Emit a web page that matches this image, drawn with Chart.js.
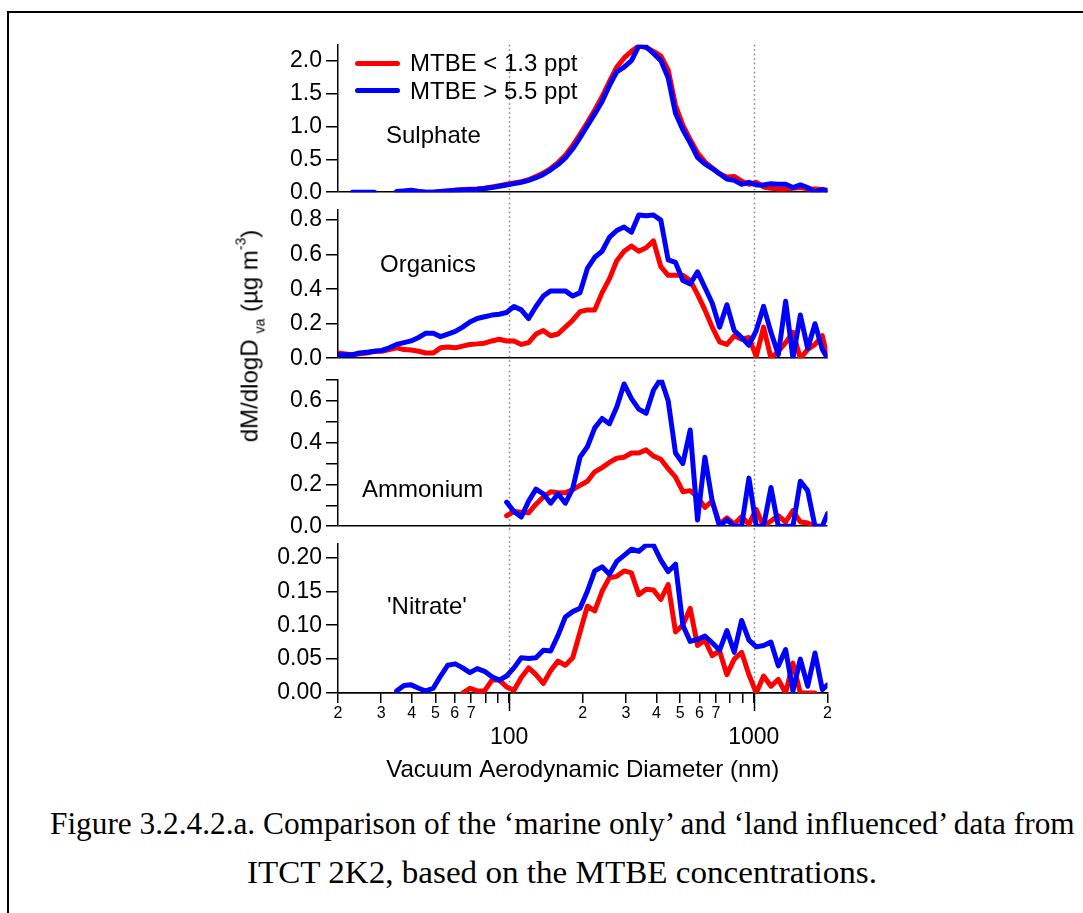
<!DOCTYPE html>
<html>
<head>
<meta charset="utf-8">
<script src="https://cdn.jsdelivr.net/npm/chart.js@4.4.1/dist/chart.umd.min.js"></script>
<style>
  body { margin: 0; background: #fff; width: 1083px; height: 913px; overflow: hidden; position: relative;
         font-family: "Liberation Sans", Arial, Helvetica, sans-serif; color: #000; }
  .frame { position: absolute; left: 7px; top: 11px; width: 1200px; height: 1000px;
           border-left: 2px solid #000; border-top: 2px solid #000; }
  canvas { position: absolute; left: 228px; }
  .lbl { position: absolute; font-size: 24px; line-height: 24px; white-space: nowrap; }
  .key { position: absolute; left: 355px; width: 45px; height: 5px; border-radius: 3px; }
  #ytitle { position: absolute; left: 250px; top: 336px; font-size: 24px; line-height: 24px; white-space: nowrap;
            transform: translate(-50%, -50%) rotate(-90deg); }
  #ytitle sub { font-size: 14px; vertical-align: -7px; margin-left: 6px; }
  #ytitle sup { font-size: 14px; vertical-align: 12px; }
  .cap { position: absolute; font-family: "Liberation Serif", "Times New Roman", serif; font-size: 31px;
         line-height: 31px; white-space: nowrap; transform-origin: left top; }
</style>
</head>
<body>
<div class="frame"></div>

<canvas id="c-sulphate" width="620" height="183" style="top:27px"></canvas>
<canvas id="c-organics" width="620" height="184" style="top:192px"></canvas>
<canvas id="c-ammonium" width="620" height="182" style="top:362px"></canvas>
<canvas id="c-nitrate" width="620" height="262" style="top:526px"></canvas>

<div class="key" style="top:61px;background:#ff0000"></div>
<div class="lbl" style="left:410px;top:51px">MTBE &lt; 1.3 ppt</div>
<div class="key" style="top:88px;background:#0000ff"></div>
<div class="lbl" style="left:410px;top:79px">MTBE &gt; 5.5 ppt</div>

<div class="lbl" style="left:386px;top:123px">Sulphate</div>
<div class="lbl" style="left:380px;top:252px">Organics</div>
<div class="lbl" style="left:362px;top:477px">Ammonium</div>
<div class="lbl" style="left:387px;top:594px">'Nitrate'</div>

<div id="ytitle">dM/dlogD<sub>va</sub> (µg m<sup>-3</sup>)</div>

<div class="cap" id="cap1" style="top:808px">Figure 3.2.4.2.a. Comparison of the ‘marine only’ and ‘land influenced’ data from</div>
<div class="cap" id="cap2" style="top:857px">ITCT 2K2, based on the MTBE concentrations.</div>

<script>
// vacuum aerodynamic diameter (nm), shared by all series
const diam = [20, 21.4, 22.9, 24.5, 26.3, 28.2, 30.2, 32.4, 34.7, 37.2,
  39.8, 42.7, 45.7, 49.0, 52.5, 56.2, 60.3, 64.6, 69.2, 74.1,
  79.4, 85.1, 91.2, 97.7, 104.7, 112.2, 120.2, 128.8, 138.0, 147.9,
  158.5, 169.8, 182.0, 195.0, 208.9, 223.9, 239.9, 257.0, 275.4, 295.1,
  316.2, 338.8, 363.1, 389.0, 416.9, 446.7, 478.6, 512.9, 549.5, 588.8,
  631.0, 676.1, 724.4, 776.2, 831.8, 891.3, 955.0, 1023, 1096, 1175,
  1259, 1349, 1445, 1549, 1660, 1778, 1905, 2000];

const seriesNames = ["MTBE < 1.3 ppt", "MTBE > 5.5 ppt"];

// Sulphate
const sulphLow = [null, null, null, null, null, null, null, null, 0.0, 0.01,
  0.02, 0.01, 0.0, 0.0, 0.01, 0.02, 0.03, 0.04, 0.045, 0.05,
  0.06, 0.08, 0.1, 0.12, 0.14, 0.16, 0.19, 0.24, 0.29, 0.36,
  0.45, 0.56, 0.71, 0.88, 1.06, 1.25, 1.45, 1.68, 1.9, 2.04,
  2.14, 2.22, 2.2, 2.14, 2.07, 1.86, 1.32, 1.02, 0.8, 0.6,
  0.46, 0.37, 0.28, 0.23, 0.24, 0.17, 0.12, 0.15, 0.08, 0.06,
  0.05, 0.05, 0.06, 0.07, 0.05, 0.05, 0.04, 0.03];
const sulphHigh = [null, null, 0.0, 0.0, 0.0, 0.0, null, null, 0.01, 0.02,
  0.03, 0.01, 0.0, 0.0, 0.01, 0.02, 0.03, 0.035, 0.04, 0.045,
  0.055, 0.07, 0.09, 0.11, 0.13, 0.15, 0.18, 0.22, 0.27, 0.34,
  0.42, 0.52, 0.66, 0.83, 1.01, 1.19, 1.38, 1.62, 1.83, 1.9,
  2.0, 2.22, 2.21, 2.11, 2.0, 1.74, 1.2, 0.95, 0.75, 0.53,
  0.43, 0.36, 0.28, 0.2, 0.18, 0.12, 0.15, 0.11, 0.11, 0.13,
  0.12, 0.12, 0.07, 0.11, 0.07, 0.0, 0.04, 0.02];

// Organics
const orgLow = [0.03, 0.025, 0.02, 0.025, 0.03, 0.04, 0.04, 0.05, 0.06, 0.05,
  0.047, 0.04, 0.03, 0.03, 0.06, 0.065, 0.06, 0.07, 0.08, 0.083,
  0.087, 0.1, 0.11, 0.1, 0.1, 0.08, 0.09, 0.14, 0.16, 0.13,
  0.14, 0.18, 0.22, 0.27, 0.28, 0.28, 0.38, 0.46, 0.565, 0.62,
  0.65, 0.62, 0.64, 0.68, 0.53, 0.48, 0.48, 0.48, 0.45, 0.37,
  0.28, 0.18, 0.095, 0.08, 0.13, 0.11, 0.12, 0.01, 0.18, 0.0,
  0.04, 0.09, 0.15, 0.0, 0.05, 0.08, 0.13, 0.0];
const orgHigh = [0.02, 0.02, 0.02, 0.03, 0.035, 0.04, 0.045, 0.06, 0.08, 0.09,
  0.1, 0.12, 0.145, 0.145, 0.125, 0.14, 0.155, 0.18, 0.21, 0.23,
  0.24, 0.25, 0.255, 0.265, 0.3, 0.28, 0.23, 0.3, 0.36, 0.39,
  0.39, 0.39, 0.36, 0.38, 0.52, 0.585, 0.62, 0.7, 0.74, 0.76,
  0.73, 0.83, 0.825, 0.83, 0.8, 0.57, 0.555, 0.45, 0.43, 0.5,
  0.41, 0.32, 0.18, 0.31, 0.16, 0.12, 0.075, 0.16, 0.3, 0.15,
  0.02, 0.33, 0.0, 0.25, 0.056, 0.2, 0.05, 0.0];

// Ammonium
const ammLow = [null, null, null, null, null, null, null, null, null, null,
  null, null, null, null, null, null, null, null, null, null,
  null, null, null, 0.05, 0.07, 0.067, 0.064, 0.105, 0.14, 0.165,
  0.16, 0.16, 0.175, 0.195, 0.215, 0.26, 0.28, 0.305, 0.325, 0.33,
  0.35, 0.35, 0.365, 0.335, 0.32, 0.275, 0.235, 0.165, 0.17, 0.14,
  0.09, 0.12, 0.01, 0.04, 0.01, 0.045, 0.01, 0.08, 0.0, 0.025,
  0.05, 0.02, 0.075, 0.02, 0.015, 0.0, null, null];
const ammHigh = [null, null, null, null, null, null, null, null, null, null,
  null, null, null, null, null, null, null, null, null, null,
  null, null, null, 0.115, 0.07, 0.044, 0.12, 0.177, 0.155, 0.11,
  0.155, 0.11, 0.18, 0.33, 0.38, 0.47, 0.515, 0.49, 0.57, 0.68,
  0.61, 0.56, 0.54, 0.65, 0.705, 0.6, 0.35, 0.3, 0.46, 0.03,
  0.33, 0.12, 0.0, 0.03, 0.0, 0.0, 0.23, 0.0, 0.0, 0.185,
  0.0, 0.0, 0.0, 0.215, 0.17, 0.0, 0.0, 0.06];

// 'Nitrate'
const nitLow = [null, null, null, null, null, null, null, null, null, null,
  null, null, null, null, null, null, null, 0.0, 0.007, 0.003,
  0.003, 0.019, 0.019, 0.009, 0.004, 0.023, 0.037, 0.027, 0.014, 0.033,
  0.047, 0.041, 0.052, 0.09, 0.128, 0.121, 0.15, 0.17, 0.172, 0.18,
  0.177, 0.145, 0.153, 0.152, 0.138, 0.16, 0.09, 0.1, 0.125, 0.07,
  0.078, 0.055, 0.062, 0.027, 0.05, 0.06, 0.027, 0.0, 0.025, 0.01,
  0.02, 0.0, 0.044, 0.0, 0.0, 0.0, null, null];
const nitHigh = [null, null, null, null, null, null, null, null, 0.003, 0.011,
  0.012, 0.007, 0.003, 0.007, 0.025, 0.041, 0.043, 0.037, 0.03, 0.036,
  0.032, 0.024, 0.019, 0.025, 0.037, 0.052, 0.051, 0.052, 0.063, 0.062,
  0.085, 0.112, 0.12, 0.125, 0.15, 0.18, 0.186, 0.175, 0.194, 0.203,
  0.212, 0.209, 0.218, 0.218, 0.196, 0.179, 0.19, 0.1, 0.076, 0.079,
  0.084, 0.074, 0.063, 0.092, 0.06, 0.107, 0.078, 0.068, 0.07, 0.075,
  0.04, 0.064, 0.003, 0.05, 0.01, 0.059, 0.005, 0.012];

// x axis ticks
const xTicks = [20, 30, 40, 50, 60, 70, 80, 90, 100, 200, 300, 400, 500, 600, 700, 800, 900, 1000, 2000];
const xTickLabels = ["2", "3", "4", "5", "6", "7", "", "", "", "2", "3", "4", "5", "6", "7", "", "", "", "2"];
const xDecades = [100, 1000];
const guideAt = [100, 1000];

const RED = "#ff0000";
const BLUE = "#0000ff";
const Y_AXIS_W = 110;

Chart.defaults.font.family = '"Liberation Sans", Arial, Helvetica, sans-serif';
Chart.defaults.color = "#000";

const guideLines = {
  id: "guideLines",
  beforeDatasetsDraw(chart, args, opts) {
    const { ctx, chartArea } = chart;
    const x = chart.scales.x;
    ctx.save();
    ctx.strokeStyle = "#808080";
    ctx.lineWidth = 1.5;
    ctx.setLineDash([1.5, 3]);
    guideAt.forEach(v => {
      const px = Math.round(x.getPixelForValue(v)) + 0.5;
      ctx.beginPath();
      ctx.moveTo(px, chartArea.top - (opts.up || 0));
      ctx.lineTo(px, chartArea.bottom + (opts.down || 0));
      ctx.stroke();
    });
    ctx.restore();
  },
  afterDraw(chart, args, opts) {
    if (!opts.majorTicks) return;
    const { ctx, chartArea } = chart;
    const x = chart.scales.x;
    ctx.save();
    ctx.strokeStyle = "#000";
    ctx.lineWidth = 1.5;
    xDecades.forEach(v => {
      const px = Math.round(x.getPixelForValue(v)) + 0.5;
      ctx.beginPath();
      ctx.moveTo(px, chartArea.bottom);
      ctx.lineTo(px, chartArea.bottom + 18);
      ctx.stroke();
    });
    ctx.restore();
  },
};

function points(values) {
  return diam.map((d, i) => ({ x: d, y: values[i] }));
}

function makePanel(canvasId, low, high, yMax, step, fmt, guide, isBottom) {
  const line = { borderWidth: 5, pointRadius: 0, tension: 0, borderJoinStyle: "round", borderCapStyle: "round", fill: false };
  const scales = {
    y: {
      min: 0, max: yMax,
      afterFit: s => { s.width = Y_AXIS_W; },
      border: { display: true, color: "#000", width: 1.5 },
      grid: {
        drawOnChartArea: true, drawTicks: true, tickLength: 12, tickColor: "#000", lineWidth: 1.5,
        color: c => (c.tick && c.tick.value === 0 ? "#000" : "rgba(0,0,0,0)"),
      },
      ticks: { stepSize: step, includeBounds: false, autoSkip: false, padding: 4, font: { size: 23 }, color: "#000", callback: fmt },
    },
  };
  if (isBottom) {
    scales.x = {
      type: "logarithmic", min: 20, max: 2000, position: "bottom", weight: 0,
      afterBuildTicks: s => { s.ticks = xTicks.map(v => ({ value: v })); },
      border: { display: true, color: "#000", width: 1.5 },
      grid: { drawOnChartArea: false, color: "#000", lineWidth: 1.5, tickLength: 10 },
      ticks: { autoSkip: false, maxRotation: 0, padding: 1, font: { size: 16 }, color: "#000",
               callback: (v, i) => xTickLabels[i] },
    };
    scales.x2 = {
      type: "logarithmic", axis: "x", min: 20, max: 2000, position: "bottom", weight: 1,
      afterBuildTicks: s => { s.ticks = xDecades.map(v => ({ value: v })); },
      border: { display: false },
      grid: { display: false, drawTicks: false },
      ticks: { autoSkip: false, maxRotation: 0, padding: 0, font: { size: 23 }, color: "#000", callback: v => String(v) },
      title: { display: true, text: "Vacuum Aerodynamic Diameter (nm)", font: { size: 24 }, color: "#000", padding: { top: 3.8, bottom: 0 } },
    };
  } else {
    scales.x = { type: "logarithmic", min: 20, max: 2000, display: false };
  }

  return new Chart(document.getElementById(canvasId), {
    type: "line",
    data: {
      datasets: [
        { label: seriesNames[0], data: points(low), borderColor: RED, backgroundColor: RED, order: 1, ...line },
        { label: seriesNames[1], data: points(high), borderColor: BLUE, backgroundColor: BLUE, order: 0, ...line },
      ],
    },
    options: {
      responsive: false,
      animation: false,
      devicePixelRatio: 1,
      layout: { padding: { left: 0, right: 20.5, top: 16, bottom: isBottom ? 3.6 : 16 } },
      plugins: { legend: { display: false }, tooltip: { enabled: false }, guideLines: guide },
      scales,
    },
    plugins: [guideLines],
  });
}

const oneDecimal = v => v.toFixed(1);

makePanel("c-sulphate", sulphLow, sulphHigh, 2.24, 0.5, oneDecimal, { up: 0, down: 7 }, false);
makePanel("c-organics", orgLow, orgHigh, 0.86, 0.2, oneDecimal, { up: 7, down: 9 }, false);
makePanel("c-ammonium", ammLow, ammHigh, 0.70, 0.1,
  v => (Math.round(v * 10) % 2 === 0 ? v.toFixed(1) : ""), { up: 9, down: 7 }, false);
makePanel("c-nitrate", nitLow, nitHigh, 0.22, 0.05, v => v.toFixed(2), { up: 7, down: 0, majorTicks: true }, true);

// fit caption lines to the width they take in the figure
function fitCaption(id, left, width) {
  const el = document.getElementById(id);
  el.style.left = left + "px";
  el.style.transform = "scaleX(" + (width / el.scrollWidth) + ")";
}
fitCaption("cap1", 50, 1025);
fitCaption("cap2", 247, 630);
</script>
</body>
</html>
